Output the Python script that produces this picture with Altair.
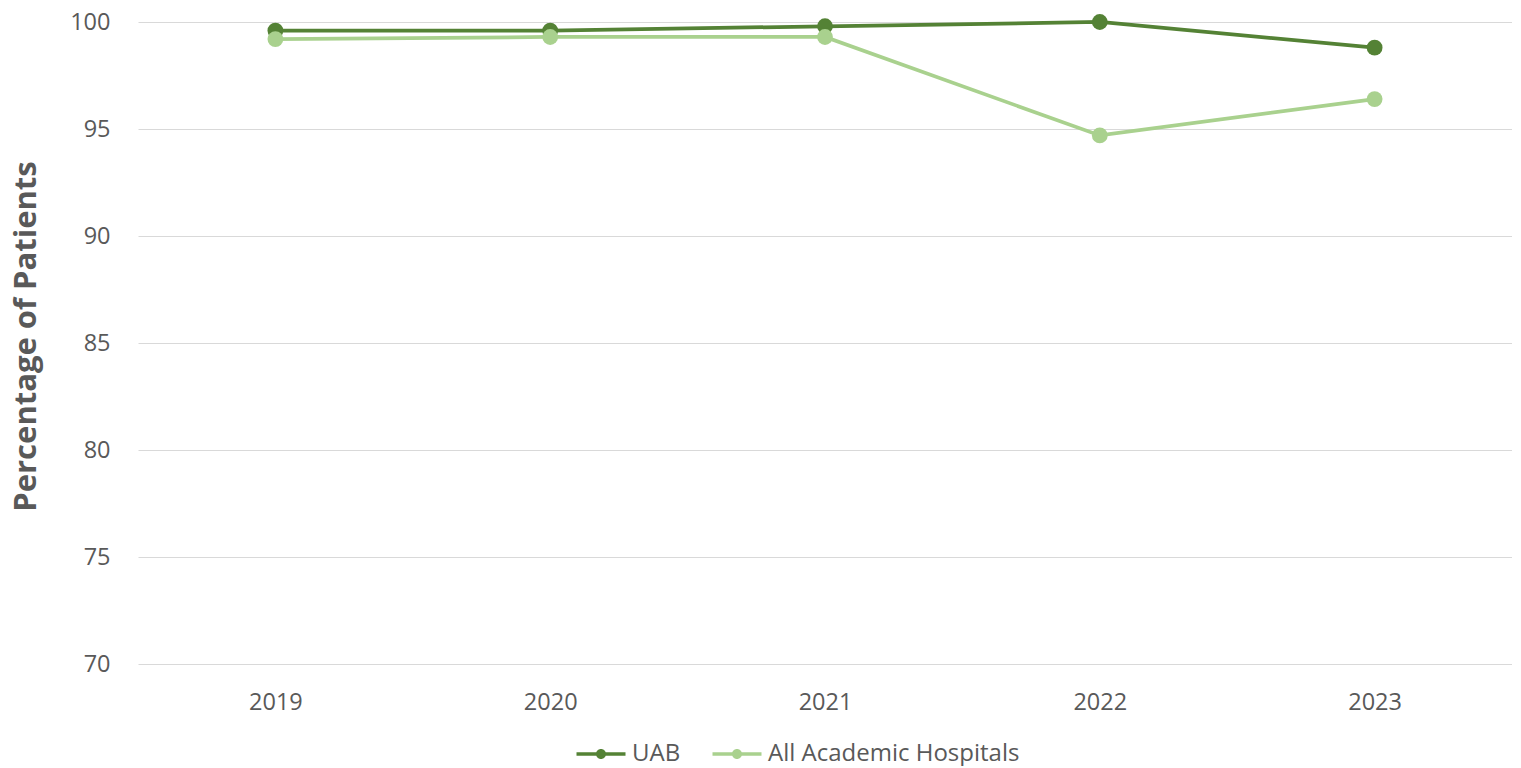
import altair as alt
import pandas as pd

years = ["2019", "2020", "2021", "2022", "2023"]
uab = [99.6, 99.6, 99.8, 100.0, 98.8]
all_academic = [99.2, 99.3, 99.3, 94.7, 96.4]
series_names = ["UAB", "All Academic Hospitals"]
colors = ["#548235", "#A9D18E"]

rows = []
for name, vals in zip(series_names, [uab, all_academic]):
    for y, v in zip(years, vals):
        rows.append({"Year": y, "Series": name, "Value": v})
df = pd.DataFrame(rows)

FONT = "Open Sans"
GRAY = "#595959"

x = alt.X("Year:O", title=None, scale=alt.Scale(padding=0.5),
          axis=alt.Axis(labelAngle=0, labelFontSize=23.5, labelColor=GRAY, labelFont=FONT,
                        domain=False, ticks=False, labelPadding=26, grid=False))
y = alt.Y("Value:Q", title="Percentage of Patients",
          scale=alt.Scale(domain=[70, 100], nice=False, zero=False),
          axis=alt.Axis(values=[70, 75, 80, 85, 90, 95, 100], labelFontSize=23.5, labelColor=GRAY,
                        labelFont=FONT, domain=False, ticks=False, labelPadding=28,
                        gridColor="#D9D9D9", gridWidth=1,
                        titleFontSize=31, titleFont=FONT, titleFontWeight="bold",
                        titleColor=GRAY, titlePadding=27, titleY=314))

color_scale = alt.Scale(domain=series_names, range=colors)

# legend symbol: line with a dot (unit = 10px at symbolSize 400)
sym = "M-2.45,-0.18H2.45V0.18H-2.45Z M0.5,0 A0.5,0.5 0 1 1 -0.5,0 A0.5,0.5 0 1 1 0.5,0Z"

legend = alt.Legend(title=None, orient="none", legendX=451, legendY=720,
                    direction="horizontal", symbolType=sym, symbolSize=400,
                    symbolStrokeWidth=0, labelFontSize=24, labelFont=FONT,
                    labelColor=GRAY, columnPadding=31, labelOffset=19,
                    labelLimit=600, symbolOpacity=1)

lines = alt.Chart(df).mark_line(strokeWidth=3.75).encode(
    x=x, y=y,
    color=alt.Color("Series:N", scale=color_scale, sort=series_names, legend=legend),
)
points = alt.Chart(df).mark_point(filled=True, size=250, opacity=1).encode(
    x=x, y=y,
    color=alt.Color("Series:N", scale=color_scale, sort=series_names, legend=legend),
)

chart = alt.layer(lines, points).properties(
    width=1374, height=642,
    padding={"left": 2, "top": 2, "right": 0, "bottom": 0},
).configure_view(stroke=None)

chart.save("out.html", embed_options={"renderer": "svg", "actions": False})
